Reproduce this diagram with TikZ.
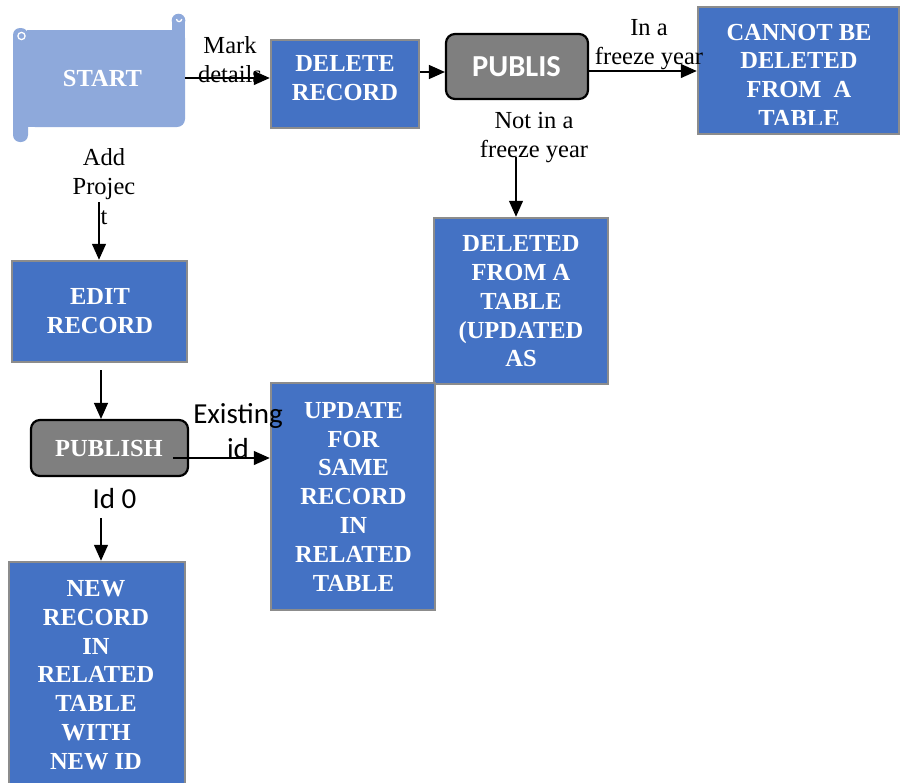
\documentclass[tikz,border=0pt]{standalone}
\usepackage{fontspec}
\setmainfont{Liberation Serif}
\newfontfamily\calibri{Carlito}
\usetikzlibrary{arrows.meta}
\definecolor{boxblue}{HTML}{4472C4}
\definecolor{scrollblue}{HTML}{8EA9DB}
\definecolor{edgegray}{HTML}{8C8C8C}
\definecolor{pubgray}{HTML}{7F7F7F}

\begin{document}
\begin{tikzpicture}[x=1pt,y=-1pt,
  bluebox/.style={draw=edgegray, line width=2.5pt, fill=boxblue, inner sep=0pt},
  boxtext/.style={text=white, font=\fontsize{24.5}{28.8}\selectfont\bfseries, align=center, inner sep=0pt},
  pubbox/.style={draw=black, line width=2.2pt, fill=pubgray, rounded corners=9pt, inner sep=0pt},
  lbl/.style={font=\fontsize{24.5}{29.5}\selectfont, align=center, inner sep=0pt},
  slbl/.style={font=\calibri\fontsize{29}{35.6}\selectfont, align=center, inner sep=0pt},
  flow/.style={line width=1.3pt, -{Triangle[length=16pt,width=14pt]}},
]
\useasboundingbox (0,0) rectangle (901,782);

% scroll-shaped start symbol
\fill[scrollblue, rounded corners=8pt] (27,30) -- (185,30) -- (185,127) -- (27,127) -- cycle;
\fill[scrollblue] (27,30) rectangle (60,127);
\fill[scrollblue] (27,30) rectangle (185,60);
\fill[scrollblue] (172,21) rectangle (185,34);
\fill[scrollblue] (178.5,20.5) circle (6.8pt);
\draw[white, line width=1.3pt] (176.5,19) arc (180:360:2.6pt);
\fill[scrollblue, rounded corners=7pt] (13,28) rectangle (28,142);
\draw[white, line width=1.3pt] (21.5,36) circle (3.6pt);
\node[boxtext] (start) at (102.5,78.3) {START};

% process boxes
\node[bluebox, minimum width=148pt, minimum height=88pt] (delete) at (345,84) {};
\node[boxtext] (deletetxt) at (345,77.8) {DELETE\\RECORD};

\node[bluebox, minimum width=201pt, minimum height=127pt] (cannot) at (798.5,70.5) {};
\begin{scope}
  \clip (699,8) rectangle (898,124);
  \node[boxtext] (cannottxt) at (799,75.3) {CANNOT BE\\DELETED\\FROM~~A\\TABLE};
\end{scope}

\node[bluebox, minimum width=174pt, minimum height=166pt] (deleted) at (521,301) {};
\node[boxtext] (deletedtxt) at (521,301.3) {DELETED\\FROM A\\TABLE\\(UPDATED\\AS};

\node[bluebox, minimum width=175pt, minimum height=101pt] (edit) at (99.5,311.5) {};
\node[boxtext] (edittxt) at (100,311.2) {EDIT\\RECORD};

\node[bluebox, minimum width=164pt, minimum height=227pt] (update) at (353,496.5) {};
\node[boxtext] (updatetxt) at (353.5,496.7) {UPDATE\\FOR\\SAME\\RECORD\\IN\\RELATED\\TABLE};

\node[bluebox, minimum width=176pt, minimum height=226pt] (new) at (97,675) {};
\node[boxtext] (newtxt) at (96,675) {NEW\\RECORD\\IN\\RELATED\\TABLE\\WITH\\NEW ID};

% publish decisions
\node[pubbox, minimum width=142pt, minimum height=65pt] (pubs) at (517,66.5) {};
\node[text=white, font=\calibri\fontsize{30.5}{36}\selectfont\bfseries, inner sep=0pt] (pubstxt) at (516.5,66.7) {PUBLIS};

\node[pubbox, minimum width=157pt, minimum height=56pt] (publish) at (109.5,448) {};
\node[boxtext] (publishtxt) at (109,448.5) {PUBLISH};

% connectors
\coordinate (startout) at (185,78);
\coordinate (startdown) at (99,202);
\coordinate (editout) at (101,370);
\coordinate (pubout) at (173,458);
\coordinate (pubdown) at (101,518);
\coordinate (pubsdown) at (516,157);

\draw[flow] (startout) -- (delete.west |- startout);
\draw[flow] (delete.east |- 0,72) -- (pubs.west |- 0,72);
\draw[flow] (pubs.east |- 0,71) -- (cannot.west |- 0,71);
\draw[flow] (pubsdown) -- (deleted.north -| pubsdown);
\draw[flow] (startdown) -- (edit.north -| startdown);
\draw[flow] (editout) -- (publish.north -| editout);
\draw[flow] (pubout) -- (update.west |- pubout);
\draw[flow] (pubdown) -- (new.north -| pubdown);

% connector labels
\node[lbl] (lmark) at (230,59.8) {Mark\\details};
\node[lbl] (lfreeze) at (649,44.6) {In a\\freeze year};
\node[lbl] (lnotfreeze) at (534,137.5) {Not in a\\freeze year};
\node[lbl] (ladd) at (104,186.5) {Add\\Projec\\t};
\node[slbl] (lexist) at (238,431) {Existing\\id};
\node[slbl] (lid) at (114.5,499) {Id 0};
\end{tikzpicture}
\end{document}
